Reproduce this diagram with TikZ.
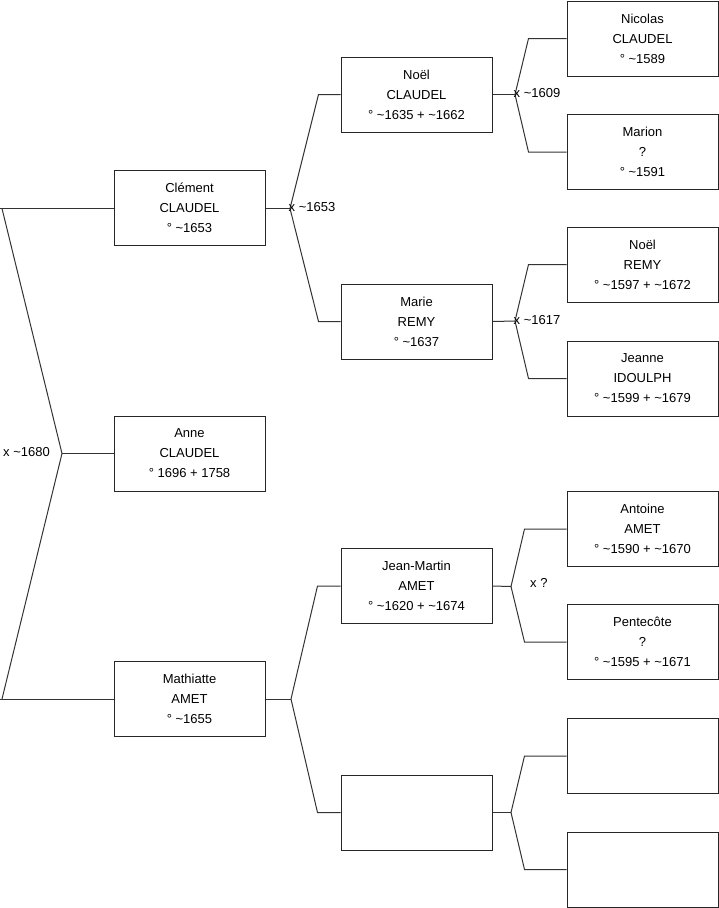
\documentclass[tikz,border=0pt]{standalone}
\usepackage{fontspec}
\setmainfont{Liberation Sans}
\usetikzlibrary{calc}
\begin{document}
\begin{tikzpicture}[x=1pt,y=-1pt,
  person/.style={draw=black!85, line width=1pt, minimum width=151pt, minimum height=75pt,
    inner sep=0pt, align=center, font=\fontsize{13}{20}\selectfont},
  link/.style={draw=black!80, line width=1pt},
  marr/.style={anchor=west, inner sep=0pt, font=\fontsize{13}{14}\selectfont}]
\useasboundingbox (0,0) rectangle (719,908);
% column 1
\node[person] (clem) at (189.5,207.5) {Clément\\CLAUDEL\\° \char`~1653};
\node[person] (anne) at (189.5,453.5) {Anne\\CLAUDEL\\° 1696 + 1758};
\node[person] (math) at (189.5,699) {Mathiatte\\AMET\\° \char`~1655};
% column 2
\node[person] (noel) at (416.5,94.5) {Noël\\CLAUDEL\\° \char`~1635 + \char`~1662};
\node[person] (marie) at (416.5,321.5) {Marie\\REMY\\° \char`~1637};
\node[person] (jm) at (416.5,586) {Jean-Martin\\AMET\\° \char`~1620 + \char`~1674};
\node[person] (e2) at (416.5,812.5) {};
% column 3
\node[person] (nico) at (642.5,38.5) {Nicolas\\CLAUDEL\\° \char`~1589};
\node[person] (mari) at (642.5,152) {Marion\\?\\° \char`~1591};
\node[person] (noelr) at (642.5,264.5) {Noël\\REMY\\° \char`~1597 + \char`~1672};
\node[person] (jean) at (642.5,378.5) {Jeanne\\IDOULPH\\° \char`~1599 + \char`~1679};
\node[person] (ant) at (642.5,529) {Antoine\\AMET\\° \char`~1590 + \char`~1670};
\node[person] (pent) at (642.5,642) {Pentecôte\\?\\° \char`~1595 + \char`~1671};
\node[person] (e3a) at (642.5,756) {};
\node[person] (e3b) at (642.5,869.5) {};
% coordinates
\coordinate (v1) at (62,453.5);
\coordinate (a1) at (2,208.5);
\coordinate (a0) at (0,208.5);
\coordinate (b1) at (2,699);
\coordinate (b0) at (0,699);
\coordinate (v2) at (290,208.5);
\coordinate (v3) at (291,699);
\coordinate (v4) at (515,94.5);
\coordinate (v5) at (515,321);
\coordinate (v6) at (511,586.5);
\coordinate (v7) at (511,812.5);
% level 1
\draw[link] (a0) -- (clem.west |- a0);
\draw[link] (b0) -- (math.west);
\draw[link] (a1) -- (v1) -- (b1);
\draw[link] (v1) -- (anne.west);
\node[marr] at (3,452) {x \char`~1680};
% level 2
\draw[link] (clem.east |- v2) -- (v2);
\draw[link] (v2) -- ($(noel.west)+(-22,0)$) -- (noel.west);
\draw[link] (v2) -- ($(marie.west)+(-22,0)$) -- (marie.west);
\node[marr] at ($(v2)+(-1.5,-1)$) {x \char`~1653};
\draw[link] (math.east) -- (v3);
\draw[link] (v3) -- ($(jm.west)+(-23,0)$) -- (jm.west);
\draw[link] (v3) -- ($(e2.west)+(-23,0)$) -- (e2.west);
% level 3
\draw[link] (noel.east) -- (v4);
\draw[link] (v4) -- ($(nico.west)+(-38,0)$) -- (nico.west);
\draw[link] (v4) -- ($(mari.west)+(-38,0)$) -- (mari.west);
\node[marr] at ($(v4)+(-1.5,-1)$) {x \char`~1609};
\draw[link] (marie.east) -- (v5);
\draw[link] (v5) -- ($(noelr.west)+(-38,0)$) -- (noelr.west);
\draw[link] (v5) -- ($(jean.west)+(-38,0)$) -- (jean.west);
\node[marr] at ($(v5)+(-1.5,-1)$) {x \char`~1617};
\draw[link] (jm.east) -- (v6);
\draw[link] (v6) -- ($(ant.west)+(-42,0)$) -- (ant.west);
\draw[link] (v6) -- ($(pent.west)+(-42,0)$) -- (pent.west);
\node[marr] at (530,583) {x ?};
\draw[link] (e2.east) -- (v7);
\draw[link] (v7) -- ($(e3a.west)+(-42,0)$) -- (e3a.west);
\draw[link] (v7) -- ($(e3b.west)+(-42,0)$) -- (e3b.west);
\end{tikzpicture}
\end{document}
